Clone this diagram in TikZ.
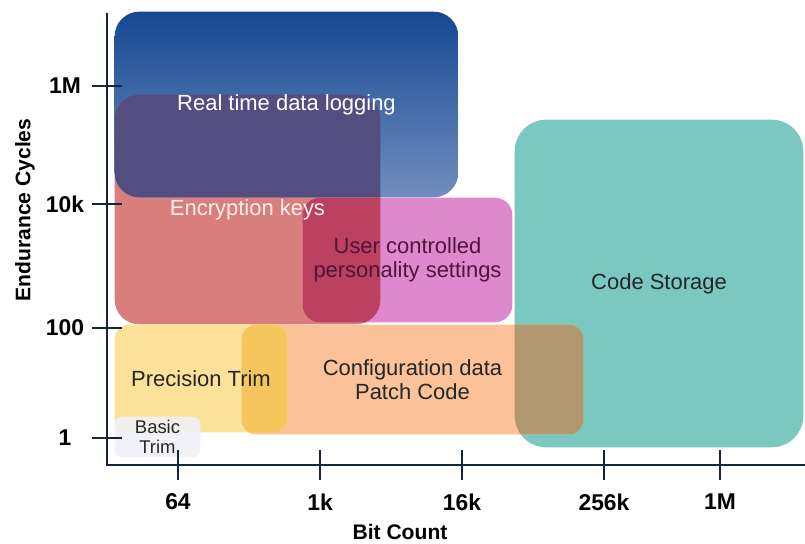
\documentclass[tikz,border=0pt]{standalone}
\usepackage{fontspec}
\setmainfont{Liberation Sans}
\usetikzlibrary{backgrounds}

\definecolor{axisnavy}{RGB}{22,36,62}
\definecolor{logtop}{RGB}{22,72,146}
\definecolor{logbot}{RGB}{112,142,190}
\definecolor{keysfill}{RGB}{216,126,124}
\definecolor{keyslog}{RGB}{84,78,128}
\definecolor{userfill}{RGB}{222,136,206}
\definecolor{keysuser}{RGB}{188,64,96}
\definecolor{codefill}{RGB}{122,200,191}
\definecolor{conffill}{RGB}{251,193,152}
\definecolor{confcode}{RGB}{178,152,110}
\definecolor{trimfill}{RGB}{251,226,152}
\definecolor{trimconf}{RGB}{245,198,92}
\definecolor{basicfill}{RGB}{240,241,246}
\definecolor{userink}{RGB}{78,22,58}

\begin{document}
\begin{tikzpicture}[
x = 0.02cm, y = -0.02cm, % one unit per pixel, y pointing down
font = \fontsize{12.5}{13.5}\selectfont,
area/.style = {inner sep = 0pt, align = center},
axis/.style = {draw = axisnavy, line width = 1.4pt},
ticklabel/.style = {font = \bfseries\fontsize{13}{15}\selectfont},
title/.style = {font = \bfseries\fontsize{12}{14}\selectfont}
]

\useasboundingbox (0,0) rectangle (805,544);

% usage areas
\node[area, text = white, minimum width = 6.86cm, minimum height = 3.7cm]
  (logging) at (286.5,104.5) {Real time data logging};
\node[area, text = white!94!red, minimum width = 5.3cm, minimum height = 4.58cm]
  (keys) at (247.5,209.5) {Encryption keys};
\node[area, text = userink, minimum width = 4.18cm, minimum height = 2.48cm]
  (user) at (407.5,260) {User controlled\\personality settings};
\node[area, text = black!85, minimum width = 5.76cm, minimum height = 6.54cm]
  (code) at (659,283.5) {Code Storage};
\node[area, text = black!85, minimum width = 6.82cm, minimum height = 2.18cm]
  (config) at (412.5,379.5) {Configuration data\\Patch Code};
\node[area, text = black!85, minimum width = 3.44cm, minimum height = 2.14cm]
  (precision) at (201,378.5) {Precision Trim};
\node[area, text = black!85, font = \fontsize{10.5}{11.5}\selectfont,
  minimum width = 1.7cm, minimum height = 0.8cm]
  (basic) at (157.5,437) {Basic\\Trim};

\begin{scope}[on background layer]
  \fill[keysfill, rounded corners = 14pt] (keys.north west) rectangle (keys.south east);
  \shade[top color = logtop, bottom color = logbot, rounded corners = 14pt]
    (logging.north west) rectangle (logging.south east);
  \fill[userfill, rounded corners = 10pt] (user.north west) rectangle (user.south east);
  \fill[codefill, rounded corners = 18pt] (code.north west) rectangle (code.south east);
  \fill[conffill, rounded corners = 8pt] (config.north west) rectangle (config.south east);
  \fill[trimfill, rounded corners = 8pt] (precision.north west) rectangle (precision.south east);

  % where two areas overlap
  \begin{scope}
    \clip[rounded corners = 14pt] (keys.north west) rectangle (keys.south east);
    \fill[keyslog, rounded corners = 14pt] (logging.north west) rectangle (logging.south east);
    \fill[keysuser, rounded corners = 10pt] (user.north west) rectangle (user.south east);
  \end{scope}
  \begin{scope}
    \clip[rounded corners = 8pt] (config.north west) rectangle (config.south east);
    \fill[confcode, rounded corners = 18pt] (code.north west) rectangle (code.south east);
    \fill[trimconf, rounded corners = 8pt] (precision.north west) rectangle (precision.south east);
  \end{scope}

  \fill[basicfill, fill opacity = 0.9, rounded corners = 4pt]
    (basic.north west) rectangle (basic.south east);
\end{scope}

% axes
\coordinate (origin) at (107,465);
\coordinate (ytop) at (107,13);
\coordinate (xend) at (805,465);
\draw[axis] (ytop) -- (origin) -- (xend);

% endurance ticks
\foreach \name/\y/\lab in {ymega/86/1M, ykilo/204/10k, yhund/328/100, yone/438/1} {
  \coordinate (\name) at (107,\y);
  \draw[axis] ([xshift = -8.5pt] \name) -- ([xshift = 8.5pt] \name);
  \node[ticklabel] (\name label) at (65,\y) {\lab};
}

% bit count ticks
\foreach \name/\x/\lab in {xsixty/178/64, xone/320/1k, xsixteen/462/16k, xquarter/604/256k, xmega/720/1M} {
  \coordinate (\name) at (\x,465);
  \draw[axis] ([yshift = -8.5pt] \name) -- ([yshift = 8.5pt] \name);
  \node[ticklabel] (\name label) at (\x,502) {\lab};
}

\node[title] (xtitle) at (400,532) {Bit Count};
\node[title, rotate = 90] (ytitle) at (25,210) {Endurance Cycles};

\end{tikzpicture}
\end{document}
